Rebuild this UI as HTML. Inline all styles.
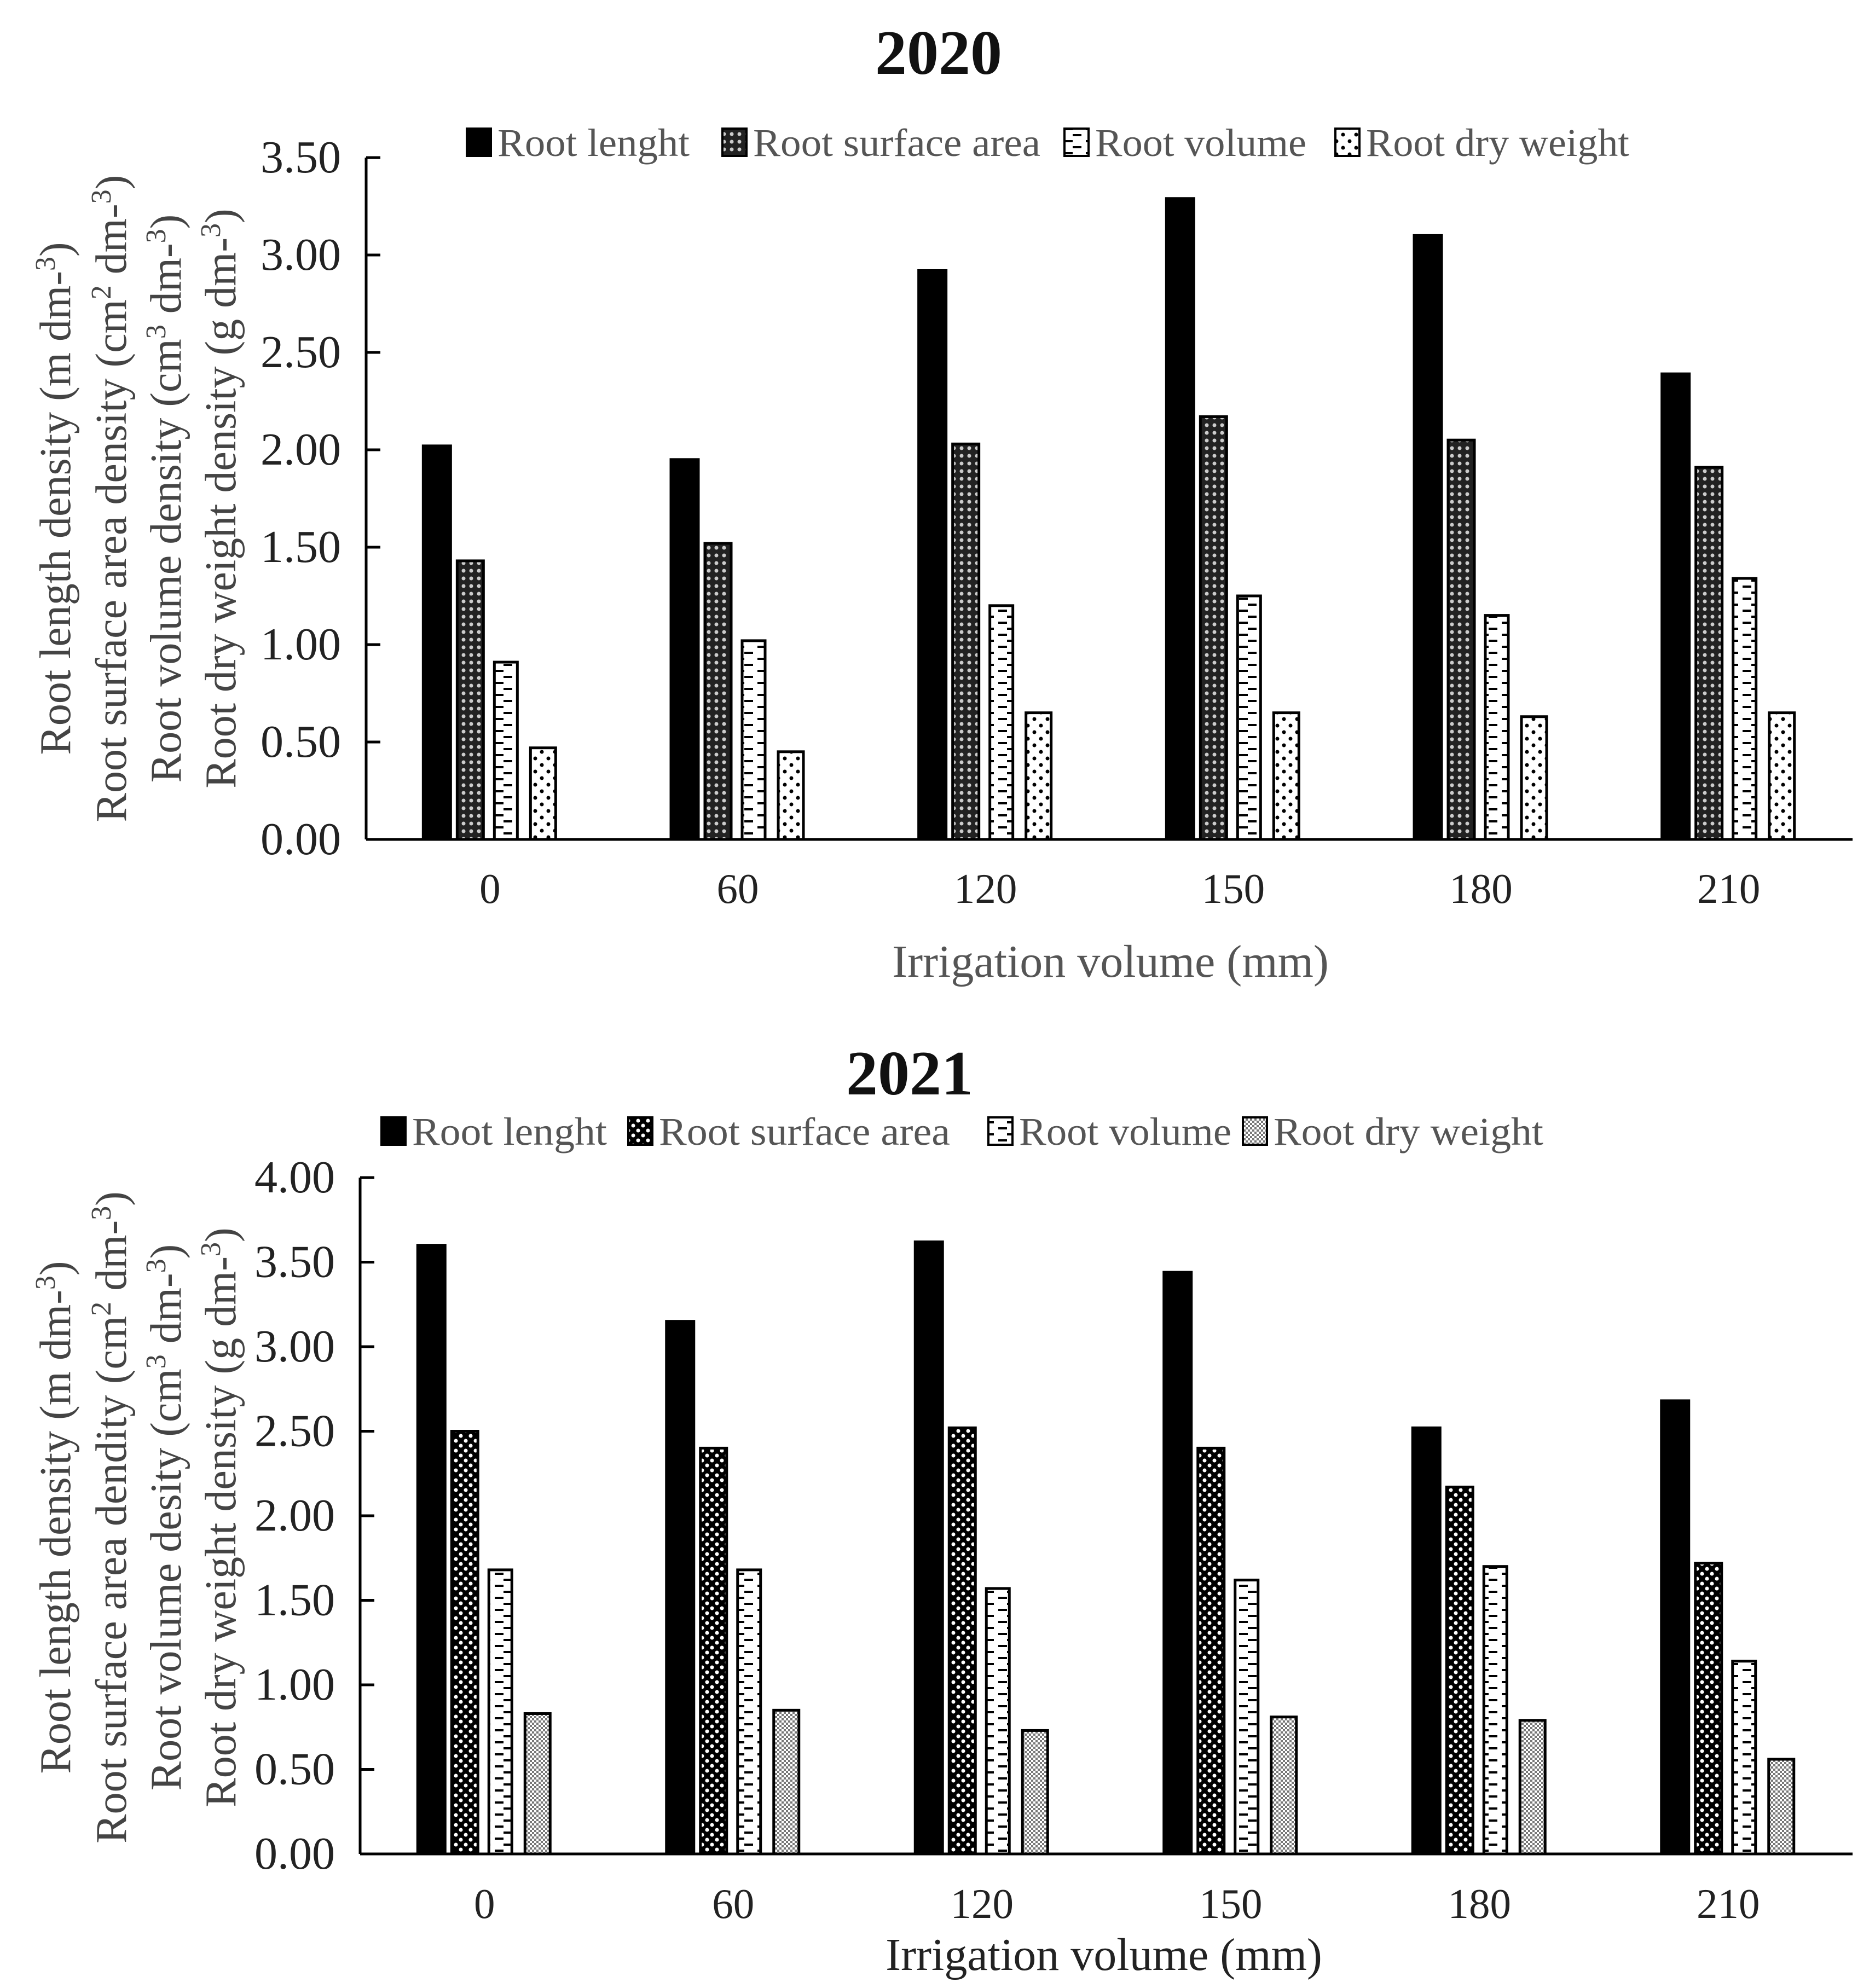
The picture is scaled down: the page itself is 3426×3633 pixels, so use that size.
<!DOCTYPE html>
<html><head><meta charset="utf-8">
<style>
html,body{margin:0;padding:0;background:#fff;}
svg{display:block;font-family:"Liberation Serif",serif;}
</style></head>
<body>
<svg id="chart" width="3426" height="3633" viewBox="0 0 3426 3633" xmlns="http://www.w3.org/2000/svg">
<defs>
 <pattern id="pSurf1" width="14" height="14" patternUnits="userSpaceOnUse">
  <rect width="14" height="14" fill="#222"/><circle cx="7" cy="7" r="3.5" fill="#ccc"/></pattern>
 <pattern id="pVol" width="40" height="22" patternUnits="userSpaceOnUse">
  <rect width="40" height="22" fill="#fff"/><line x1="0" y1="5" x2="16" y2="5" stroke="#000" stroke-width="4"/><line x1="24" y1="16" x2="40" y2="16" stroke="#000" stroke-width="4"/></pattern>
 <pattern id="pDry1" width="24" height="24" patternUnits="userSpaceOnUse">
  <rect width="24" height="24" fill="#fff"/><circle cx="6" cy="6" r="3.5" fill="#000"/><circle cx="18" cy="18" r="3.5" fill="#000"/></pattern>
 <pattern id="pSurf2" width="18" height="18" patternUnits="userSpaceOnUse">
  <rect width="18" height="18" fill="#000"/><circle cx="5" cy="5" r="3.5" fill="#fff"/><circle cx="14" cy="14" r="3.5" fill="#fff"/></pattern>
 <pattern id="pDry2" width="8" height="8" patternUnits="userSpaceOnUse">
  <rect width="8" height="8" fill="#fff"/><rect width="4" height="4" fill="#777"/><rect x="4" y="4" width="4" height="4" fill="#777"/></pattern>
</defs>
<g id="g1"></g>
<g id="g2"></g>
</svg>
<script>
const categories = ["0","60","120","150","180","210"];
const series = ["Root lenght","Root surface area","Root volume","Root dry weight"];
const length2020 = [2.02,1.95,2.92,3.29,3.10,2.39];
const surface2020 = [1.43,1.52,2.03,2.17,2.05,1.91];
const volume2020 = [0.91,1.02,1.20,1.25,1.15,1.34];
const dry2020 = [0.47,0.45,0.65,0.65,0.63,0.65];
const length2021 = [3.60,3.15,3.62,3.44,2.52,2.68];
const surface2021 = [2.50,2.40,2.52,2.40,2.17,1.72];
const volume2021 = [1.68,1.68,1.57,1.62,1.70,1.14];
const dry2021 = [0.83,0.85,0.73,0.81,0.79,0.56];
const ticks2020 = ["0.00","0.50","1.00","1.50","2.00","2.50","3.00","3.50"];
const ticks2021 = ["0.00","0.50","1.00","1.50","2.00","2.50","3.00","3.50","4.00"];

const NS="http://www.w3.org/2000/svg";
function mk(parent,tag,attrs,text){const e=document.createElementNS(NS,tag);for(const k in attrs)e.setAttribute(k,attrs[k]);if(text!==undefined)e.textContent=text;parent.appendChild(e);return e;}

function draw(g,cfg){
  const x0=cfg.x0,x1=cfg.x1,yb=cfg.yb,ytop=cfg.ytop;
  const ymax=parseFloat(cfg.ticks[cfg.ticks.length-1]);
  const unit=(yb-ytop)/ymax;
  const yS=v=>yb-v*unit;
  const bw=(x1-x0)/categories.length;
  const xC=i=>x0+bw*(i+0.5);
  const t=mk(g,'text',{x:cfg.titleX,y:cfg.titleY,'font-size':116,'font-weight':'bold','text-anchor':'middle',fill:'#111'},cfg.title);
  
  
  cfg.legend.forEach((L,i)=>{
    const lg=mk(g,'g',{});
    
    
    mk(lg,'rect',{x:L[0],y:cfg.legY-50,width:44,height:50,fill:cfg.fills[i],stroke:'#000','stroke-width':4});
    mk(lg,'text',{x:L[0]+56,y:cfg.legY,'font-size':72,fill:'#555',textLength:L[1],lengthAdjust:'spacingAndGlyphs'},series[i]);
  });
  const ax=mk(g,'line',{x1:x0,y1:yS(ymax),x2:x0,y2:yb,stroke:'#000','stroke-width':5});
  
  
  cfg.ticks.forEach(tk=>{
    const v=parseFloat(tk);
    mk(g,'line',{x1:x0,y1:yS(v),x2:x0+26,y2:yS(v),stroke:'#000','stroke-width':5});
    const tl=mk(g,'text',{x:x0-46,y:yS(v)+27,'font-size':84,'text-anchor':'end',fill:'#222'},tk);
    
    
  });
  const xa=mk(g,'line',{x1:x0,y1:yb,x2:x1,y2:yb,stroke:'#000','stroke-width':5});
  
  
  const offs=[-122,-60,8,74], wids=[50,48,42,46];
  categories.forEach((c,i)=>{
    cfg.data.forEach((arr,s)=>{
      const v=arr[i];
      const r=mk(g,'rect',{x:xC(i)+offs[s],y:yS(v),width:wids[s],height:yb-yS(v),fill:cfg.fills[s],stroke:'#000','stroke-width':5});
      
      
    });
    const cl=mk(g,'text',{x:xC(i),y:cfg.catY,'font-size':77,'text-anchor':'middle',fill:'#222'},c);
    
    
  });
  const xt=mk(g,'text',{x:cfg.xtX,y:cfg.xtY,'font-size':84,'text-anchor':'middle',fill:cfg.xtColor},'Irrigation volume (mm)');
  
  
  cfg.ytitles.forEach((s,i)=>{
    const xx=cfg.ytX[i];
    const yt=mk(g,'text',{x:xx,y:cfg.ytY,'font-size':80,'text-anchor':'middle',fill:'#444',transform:'rotate(-90 '+xx+' '+cfg.ytY+')'});
    
    
    s.forEach(p=>{mk(yt,'tspan',p[1]?{'baseline-shift':'super','font-size':52}:{},p[0]);});
  });
}
const yt1=[[["Root length density (m  dm-"],["3",1],[")"]],
 [["Root surface area density (cm"],["2",1],[" dm-"],["3",1],[")"]],
 [["Root volume density (cm"],["3",1],[" dm-"],["3",1],[")"]],
 [["Root dry weight density (g dm-"],["3",1],[")"]]];
const yt2=[[["Root length density (m dm-"],["3",1],[")"]],
 [["Root surface area dendity (cm"],["2",1],[" dm-"],["3",1],[")"]],
 [["Root volume desity (cm"],["3",1],[" dm-"],["3",1],[")"]],
 [["Root dry weight density (g dm-"],["3",1],[")"]]];
draw(document.getElementById('g1'),{x0:669,x1:3385,yb:1534,ytop:288,ticks:ticks2020,title:'2020',titleX:1715,titleY:135,
 legY:285,legend:[[853,351],[1320,525],[1945,386],[2440,481]],fills:['#000','url(#pSurf1)','url(#pVol)','url(#pDry1)'],
 data:[length2020,surface2020,volume2020,dry2020],catY:1650,xtX:2029,xtY:1785,xtColor:'#555',ytitles:yt1,ytX:[128,230,330,430],ytY:911});
draw(document.getElementById('g2'),{x0:658,x1:3385,yb:3388,ytop:2152,ticks:ticks2021,title:'2021',titleX:1662,titleY:2000,
 legY:2092,legend:[[697,356],[1148,532],[1806,388],[2271,493]],fills:['#000','url(#pSurf2)','url(#pVol)','url(#pDry2)'],
 data:[length2021,surface2021,volume2021,dry2021],catY:3505,xtX:2017,xtY:3600,xtColor:'#222',ytitles:yt2,ytX:[128,230,330,430],ytY:2773});
</script>
</body></html>
